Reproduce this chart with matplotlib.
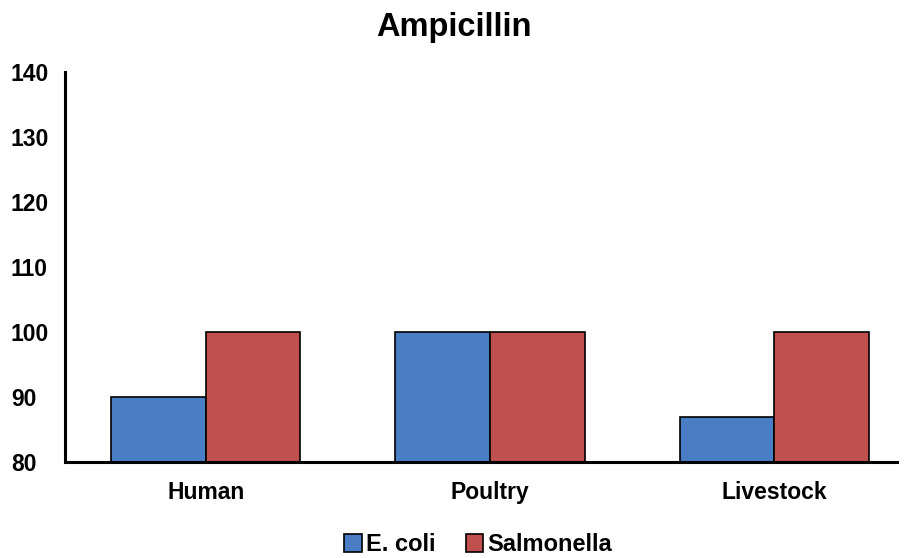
import numpy as np
import matplotlib.pyplot as plt

plt.rcParams['font.family'] = ['Liberation Sans', 'DejaVu Sans']

# Data
categories = ['Human', 'Poultry', 'Livestock']
ecoli = [90, 100, 87]
salmonella = [100, 100, 100]

fig = plt.figure(figsize=(9.07, 5.58), dpi=100)
ax = fig.add_axes([0.0717, 0.172, 0.917, 0.699])

x = np.arange(len(categories))
w = 0.333
ax.bar(x - w / 2, ecoli, w, color='#4A7EC4', edgecolor='black', linewidth=1.2, label='E. coli')
ax.bar(x + w / 2, salmonella, w, color='#C0504D', edgecolor='black', linewidth=1.2, label='Salmonella')

ax.set_ylim(80, 140)
ax.set_xlim(-0.495, 2.43)
ax.set_yticks(range(80, 141, 10))
ax.set_xticks(x)
ax.set_xticklabels(categories, fontsize=16.5, fontweight='bold')
for lbl in ax.get_yticklabels():
    lbl.set_fontsize(16.5)
    lbl.set_fontweight('bold')
    lbl.set_horizontalalignment('left')
ax.tick_params(length=0)
ax.tick_params(axis='y', pad=39)
ax.tick_params(axis='x', pad=14)

ax.spines['top'].set_visible(False)
ax.spines['right'].set_visible(False)
ax.spines['left'].set_linewidth(2.2)
ax.spines['bottom'].set_linewidth(2.2)

fig.text(0.5, 0.95, 'Ampicillin', ha='center', va='center', fontsize=23.5, fontweight='bold')

fig.legend(loc='lower center', bbox_to_anchor=(0.527, -0.035), ncol=2, frameon=False,
           prop={'weight': 'bold', 'size': 17}, handlelength=0.75, handleheight=0.75,
           handletextpad=0.15, columnspacing=1.3)

plt.savefig('out.png')
